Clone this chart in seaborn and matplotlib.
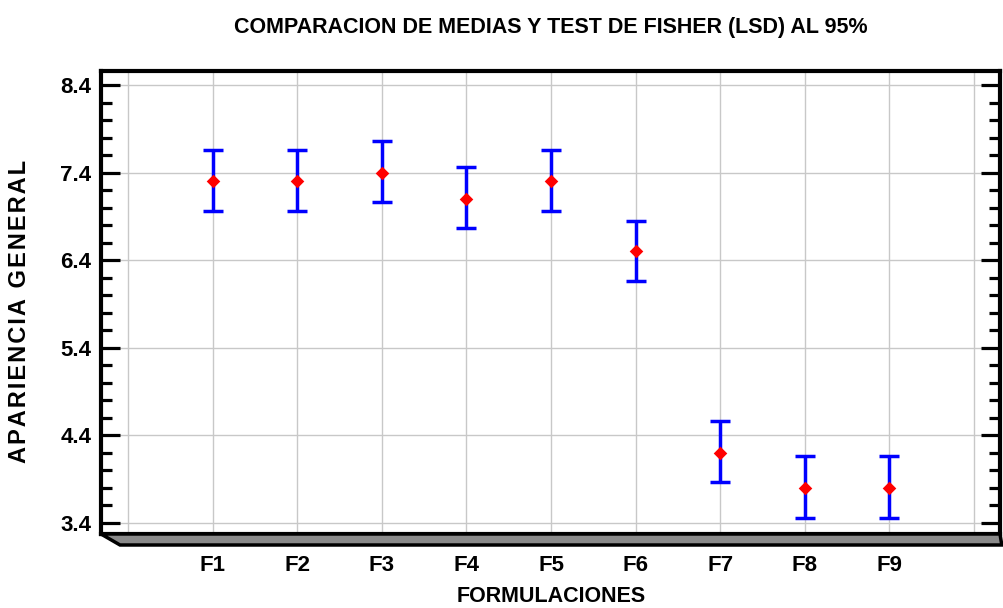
import numpy as np
import matplotlib
matplotlib.use('Agg')
import matplotlib.pyplot as plt
import seaborn as sns
from matplotlib.patches import Polygon

# data
formulaciones = ['F1', 'F2', 'F3', 'F4', 'F5', 'F6', 'F7', 'F8', 'F9']
medias = [7.3, 7.3, 7.4, 7.1, 7.3, 6.5, 4.2, 3.8, 3.8]
limite_inf = [6.96, 6.96, 7.06, 6.77, 6.96, 6.16, 3.87, 3.46, 3.46]
limite_sup = [7.66, 7.66, 7.76, 7.46, 7.66, 6.85, 4.56, 4.16, 4.16]
y_ticks = [3.4, 4.4, 5.4, 6.4, 7.4, 8.4]

sns.set_style('white')
plt.rcParams['font.family'] = ['Liberation Sans', 'DejaVu Sans']
plt.rcParams['font.weight'] = 'bold'
for key in ['text.color', 'axes.labelcolor', 'xtick.color', 'ytick.color']:
    plt.rcParams[key] = 'black'

fig = plt.figure(figsize=(10.04, 6.08), dpi=100)
ax = fig.add_axes([101 / 1004, 74 / 608, 899 / 1004, 463 / 608])

pos = np.arange(1, len(formulaciones) + 1)
med = np.array(medias)
yerr = [med - np.array(limite_inf), np.array(limite_sup) - med]

ax.errorbar(pos, med, yerr=yerr, fmt='none', ecolor='#0000ff',
            elinewidth=2.5, capsize=7, capthick=2.5, zorder=3)
sns.scatterplot(x=pos, y=med, marker='D', color='red', s=48,
                edgecolor='red', linewidth=0, ax=ax, zorder=4)

ax.set_xlim(-0.319, 10.307)
ax.set_ylim(3.274, 8.56)

ax.set_xticks(range(0, 11))
ax.set_xticklabels([''] + formulaciones + [''])
ax.set_yticks(y_ticks)
ax.set_yticklabels([f'{v:.1f}' for v in y_ticks])
ax.set_yticks(np.arange(3.4, 8.41, 0.2), minor=True)

ax.grid(True, which='major', color='#c8c8c8', linewidth=1)
ax.tick_params(axis='x', length=0, pad=15, labelsize=16)
ax.tick_params(axis='y', which='major', direction='in', length=14, width=2.3,
               left=True, right=True, labelsize=16, pad=7)
ax.tick_params(axis='y', which='minor', direction='in', length=8, width=2.3,
               left=True, right=True)
for lbl in ax.get_xticklabels() + ax.get_yticklabels():
    lbl.set_fontweight('bold')

for s in ax.spines.values():
    s.set_visible(True)
    s.set_color('black')
    s.set_linewidth(3)

# 3D-style floor band under the plot
band = Polygon([(0, 0), (1, 0), (1.002, -11 / 463), (19 / 899, -11 / 463)],
               closed=True, transform=ax.transAxes, facecolor='#8a8a8a',
               edgecolor='black', linewidth=2.5, clip_on=False, zorder=5)
ax.add_patch(band)

fig.text(551 / 1004, 1 - 27 / 608,
         'COMPARACION DE MEDIAS Y TEST DE FISHER (LSD) AL 95%',
         ha='center', va='center', fontsize=15.5, fontweight='bold')
fig.text(551 / 1004, 1 - 597 / 608, 'FORMULACIONES',
         ha='center', va='center', fontsize=15.5, fontweight='bold')
fig.text(20 / 1004, 1 - 311 / 608, '\u200a'.join('APARIENCIA GENERAL'),
         ha='center', va='center', rotation=90, fontsize=17, fontweight='bold')

fig.savefig('out.png', dpi=100)
